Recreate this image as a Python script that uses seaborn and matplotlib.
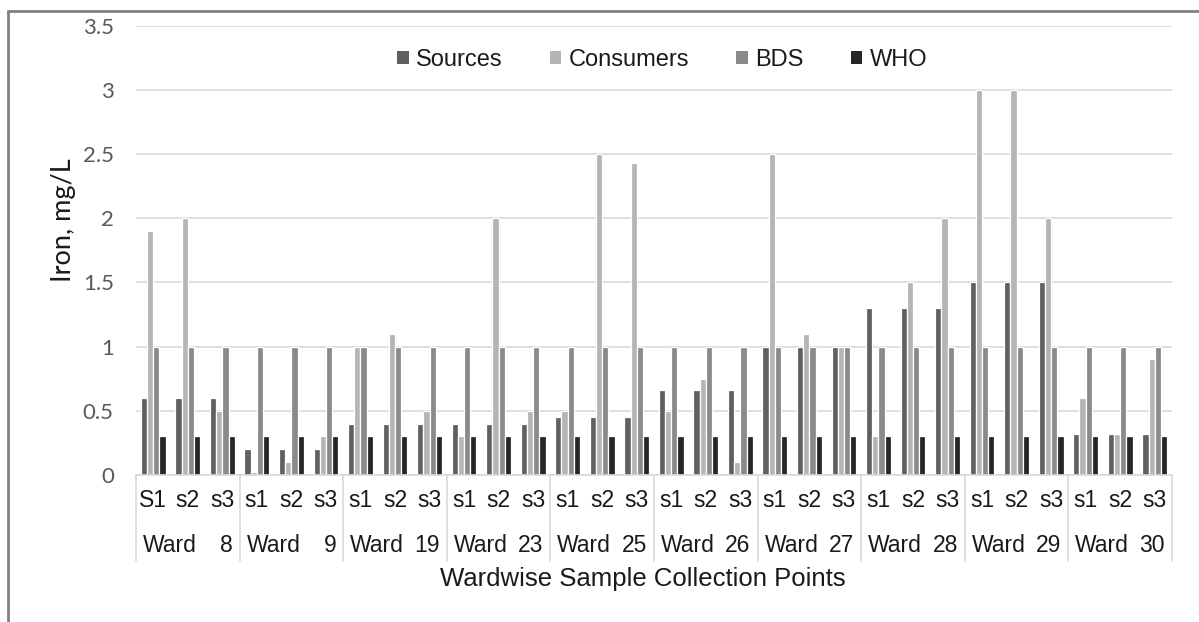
import matplotlib
matplotlib.use("Agg")
import matplotlib.pyplot as plt
import matplotlib.transforms as mtransforms
from matplotlib.lines import Line2D
import pandas as pd
import seaborn as sns

# Iron concentration by ward and sampling point
wards = ["8", "9", "19", "23", "25", "26", "27", "28", "29", "30"]
sample_labels = ["S1", "s2", "s3",
                 "s1", "s2", "s3", "s1", "s2", "s3", "s1", "s2", "s3",
                 "s1", "s2", "s3", "s1", "s2", "s3", "s1", "s2", "s3",
                 "s1", "s2", "s3", "s1", "s2", "s3", "s1", "s2", "s3"]
sources = [0.6, 0.6, 0.6, 0.2, 0.2, 0.2, 0.4, 0.4, 0.4, 0.4, 0.4, 0.4,
           0.45, 0.45, 0.45, 0.66, 0.66, 0.66, 1.0, 1.0, 1.0,
           1.3, 1.3, 1.3, 1.5, 1.5, 1.5, 0.32, 0.32, 0.32]
consumers = [1.9, 2.0, 0.5, 0.02, 0.1, 0.3, 1.0, 1.1, 0.5, 0.3, 2.0, 0.5,
             0.5, 2.5, 2.43, 0.5, 0.75, 0.1, 2.5, 1.1, 1.0,
             0.3, 1.5, 2.0, 3.0, 3.0, 2.0, 0.6, 0.32, 0.9]
bds = [1.0, 1.0, 1.0, 1.0, 1.0, 1.0, 1.0, 1.0, 1.0, 1.0, 1.0, 1.0,
       1.0, 1.0, 1.0, 1.0, 1.0, 1.0, 1.0, 1.0, 1.0,
       1.0, 1.0, 1.0, 1.0, 1.0, 1.0, 1.0, 1.0, 1.0]
who = [0.3, 0.3, 0.3, 0.3, 0.3, 0.3, 0.3, 0.3, 0.3, 0.3, 0.3, 0.3,
       0.3, 0.3, 0.3, 0.3, 0.3, 0.3, 0.3, 0.3, 0.3,
       0.3, 0.3, 0.3, 0.3, 0.3, 0.3, 0.3, 0.3, 0.3]
series_names = ["Sources", "Consumers", "BDS", "WHO"]
y_ticks = [0, 0.5, 1, 1.5, 2, 2.5, 3, 3.5]
y_tick_labels = ["0", "0.5", "1", "1.5", "2", "2.5", "3", "3.5"]

colors = ["#606060", "#b5b5b5", "#8a8a8a", "#262626"]

# long-format table: one row per bar
point_ids = [f"W{wards[i // 3]}-{sample_labels[i]}-{i}" for i in range(len(sample_labels))]
rows = []
for name, vals in zip(series_names, [sources, consumers, bds, who]):
    for pid, v in zip(point_ids, vals):
        rows.append({"point": pid, "series": name, "iron": v})
df = pd.DataFrame(rows)

sns.set_theme(style="white")
plt.rcParams["font.family"] = ["Liberation Sans", "DejaVu Sans"]

fig = plt.figure(figsize=(11.99, 6.22), dpi=100)
ax = fig.add_axes([136 / 1199, 1 - 475 / 622, (1172 - 136) / 1199, (475 - 25.7) / 622])

sns.barplot(data=df, x="point", y="iron", hue="series", order=point_ids,
            hue_order=series_names, palette=colors, width=0.72,
            edgecolor="white", linewidth=0.9, saturation=1, ax=ax)

ax.set_xlim(-0.5, len(point_ids) - 0.5)
ax.set_ylim(0, 3.5)
ax.set_yticks(y_ticks)
ax.set_yticklabels(y_tick_labels, fontfamily="Lato", fontsize=16, color="#595959")
ax.yaxis.grid(True, color="#d9d9d9", linewidth=1.2)
ax.set_axisbelow(True)
ax.tick_params(axis="y", length=0, pad=16)
ax.tick_params(axis="x", length=0, pad=10)
ax.set_xticks(range(len(point_ids)))
ax.set_xticklabels(sample_labels, fontsize=16.5, color="#1a1a1a")

for side in ["left", "right", "top"]:
    ax.spines[side].set_visible(False)
ax.spines["bottom"].set_color("#d9d9d9")
ax.spines["bottom"].set_linewidth(1.2)

ax.set_xlabel("")
ax.set_ylabel("Iron, mg/L", fontfamily="Lato", fontsize=19.5, color="#1a1a1a")
ax.yaxis.set_label_coords((76 - 136) / 1036, (475 - 220) / (475 - 25.7))

# group labels and separators under the axis
trans = mtransforms.blended_transform_factory(ax.transData, ax.transAxes)
sep_len = (561 - 475) / (475 - 25.7)
for g in range(len(wards) + 1):
    xs = g * 3 - 0.5
    ax.plot([xs, xs], [0, -sep_len], transform=trans, color="#d9d9d9",
            linewidth=1.2, clip_on=False)
label_y = -(546 - 475) / (475 - 25.7)
for g, w in enumerate(wards):
    left = g * 3 - 0.5
    right = g * 3 + 2.5
    ax.text(left + 0.2, label_y, "Ward", transform=trans, ha="left", va="center",
            fontsize=16.5, color="#1a1a1a")
    ax.text(right - 0.2, label_y, w, transform=trans, ha="right", va="center",
            fontsize=16.5, color="#1a1a1a")

fig.text(643 / 1199, 1 - 579 / 622, "Wardwise Sample Collection Points",
         ha="center", va="center", fontsize=18.5, color="#1a1a1a")

# legend across the top of the plot area
ax.legend_.remove()
handles = [plt.Rectangle((0, 0), 1, 1, facecolor=c, edgecolor="none") for c in colors]
fig.legend(handles, series_names, loc="center", bbox_to_anchor=(662 / 1199, 1 - 60 / 622),
           ncol=4, frameon=False, fontsize=17, handlelength=0.5, handleheight=0.5,
           handletextpad=0.3, columnspacing=2.0, labelcolor="#1a1a1a")

# outer frame on the top and left edges
fig.add_artist(Line2D([8 / 1199, 8 / 1199], [0, 1 - 11 / 622], transform=fig.transFigure,
                      color="#808080", linewidth=2))
fig.add_artist(Line2D([8 / 1199, 1], [1 - 11 / 622, 1 - 11 / 622], transform=fig.transFigure,
                      color="#808080", linewidth=2))

fig.savefig("out.png", dpi=100)
